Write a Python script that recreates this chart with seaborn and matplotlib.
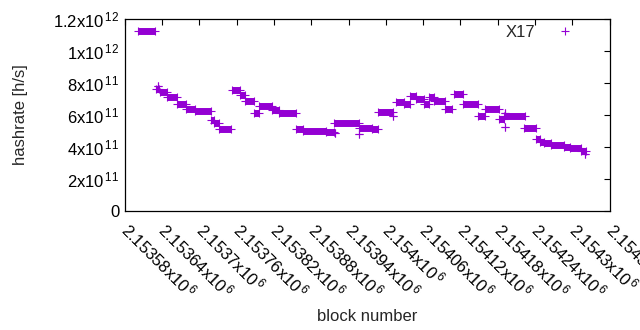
import numpy as np
import pandas as pd
import matplotlib
matplotlib.use("Agg")
import matplotlib.pyplot as plt
from matplotlib.lines import Line2D
from matplotlib.ticker import FixedLocator, FuncFormatter
import seaborn as sns

# hashrate stays constant over runs of blocks: (first block, last block, value in 1e11 h/s)
seg_start = [2153601, 2153631, 2153633, 2153637, 2153648, 2153664, 2153678, 2153693,
             2153718, 2153724, 2153732, 2153753, 2153765, 2153773, 2153788, 2153796,
             2153817, 2153828, 2153855, 2153867, 2153904, 2153917, 2153918, 2153957,
             2153957, 2153977, 2153988, 2154011, 2154017, 2154030, 2154039, 2154049,
             2154062, 2154069, 2154077, 2154095, 2154110, 2154124, 2154148, 2154160,
             2154182, 2154190, 2154191, 2154191, 2154222, 2154242, 2154248, 2154255,
             2154266, 2154287, 2154296, 2154314, 2154321]
seg_end = [2153629, 2153635, 2153633, 2153648, 2153664, 2153678, 2153693, 2153719,
           2153724, 2153732, 2153751, 2153765, 2153773, 2153788, 2153796, 2153817,
           2153828, 2153855, 2153867, 2153904, 2153917, 2153957, 2153918, 2153977,
           2153957, 2153988, 2154012, 2154011, 2154030, 2154039, 2154049, 2154062,
           2154069, 2154077, 2154095, 2154106, 2154124, 2154148, 2154160, 2154182,
           2154190, 2154224, 2154191, 2154191, 2154242, 2154248, 2154255, 2154266,
           2154287, 2154296, 2154314, 2154322, 2154321]
hashrate_e11 = [11.23, 7.60, 7.80, 7.46, 7.11, 6.67, 6.36, 6.23,
                5.69, 5.50, 5.14, 7.54, 7.23, 6.86, 6.11, 6.58,
                6.31, 6.11, 5.11, 5.02, 4.96, 5.48, 4.88, 5.17,
                4.81, 5.11, 6.21, 5.94, 6.83, 6.69, 7.21, 7.00,
                6.69, 7.11, 6.88, 6.36, 7.29, 6.67, 5.94, 6.38,
                5.73, 5.94, 6.11, 5.27, 5.17, 4.48, 4.33, 4.23,
                4.13, 4.02, 3.92, 3.77, 3.56]

x_ticks = [2153580 + 60 * i for i in range(14)]
y_ticks = [0, 2e11, 4e11, 6e11, 8e11, 1e12, 1.2e12]
y_tick_labels = ["0", "2x10$^{\\,11}$", "4x10$^{\\,11}$", "6x10$^{\\,11}$",
                 "8x10$^{\\,11}$", "1x10$^{\\,12}$", "1.2x10$^{\\,12}$"]

purple = "#9400D3"

sns.set_style("white")
plt.rcParams["font.family"] = ["Liberation Sans", "DejaVu Sans"]
plt.rcParams["mathtext.fontset"] = "custom"
plt.rcParams["mathtext.rm"] = "Liberation Sans"
plt.rcParams["mathtext.it"] = "Liberation Sans:italic"

# two rows per run, one line per run
rows = []
for i, (s, e, h) in enumerate(zip(seg_start, seg_end, hashrate_e11)):
    rows.append({"seg": i, "block": s, "hashrate": h * 1e11})
    rows.append({"seg": i, "block": e, "hashrate": h * 1e11})
df = pd.DataFrame(rows)

fig = plt.figure(figsize=(6.4, 3.3), dpi=100)
ax = fig.add_axes([124.8 / 640, 1 - 211 / 330, (609.6 - 124.8) / 640, 192 / 330])

sns.lineplot(data=df, x="block", y="hashrate", units="seg", estimator=None,
             color=purple, lw=5.0, solid_capstyle="butt",
             marker="+", markersize=5.8, markeredgewidth=0.8,
             markeredgecolor=purple, legend=False, ax=ax)

ax.set_xlim(2153580, 2154360)
ax.set_ylim(0, 1.2e12)

ax.xaxis.set_major_locator(FixedLocator(x_ticks))
ax.xaxis.set_major_formatter(FuncFormatter(lambda v, p: f"{v / 1e6:g}x10$^{{\\,6}}$"))
ax.yaxis.set_major_locator(FixedLocator(y_ticks))
ax.set_yticklabels(y_tick_labels)

ax.tick_params(direction="in", top=True, right=True, length=4, width=0.8,
               labelsize=12, colors="black")
ax.tick_params(axis="y", pad=4)
ax.tick_params(axis="x", pad=11)
for lab in ax.get_xticklabels():
    lab.set_rotation(-45)
    lab.set_ha("left")
    lab.set_va("center")
    lab.set_rotation_mode("anchor")

for sp in ax.spines.values():
    sp.set_visible(True)
    sp.set_color("black")
    sp.set_linewidth(0.9)

ax.set_xlabel("block number", fontsize=12)
ax.set_ylabel("hashrate [h/s]", fontsize=12)
ax.xaxis.set_label_coords(0.5, -0.51)
ax.yaxis.set_label_coords(-0.199, 0.5)

handle = Line2D([], [], marker="+", ls="none", color=purple, markersize=5.8,
                markeredgewidth=0.8)
ax.legend([handle], ["X17"], loc="upper right", bbox_to_anchor=(0.943, 0.969),
          frameon=False, markerfirst=False, fontsize=12, borderpad=0,
          borderaxespad=0, handletextpad=0.8)

fig.savefig("out.png", dpi=100)
